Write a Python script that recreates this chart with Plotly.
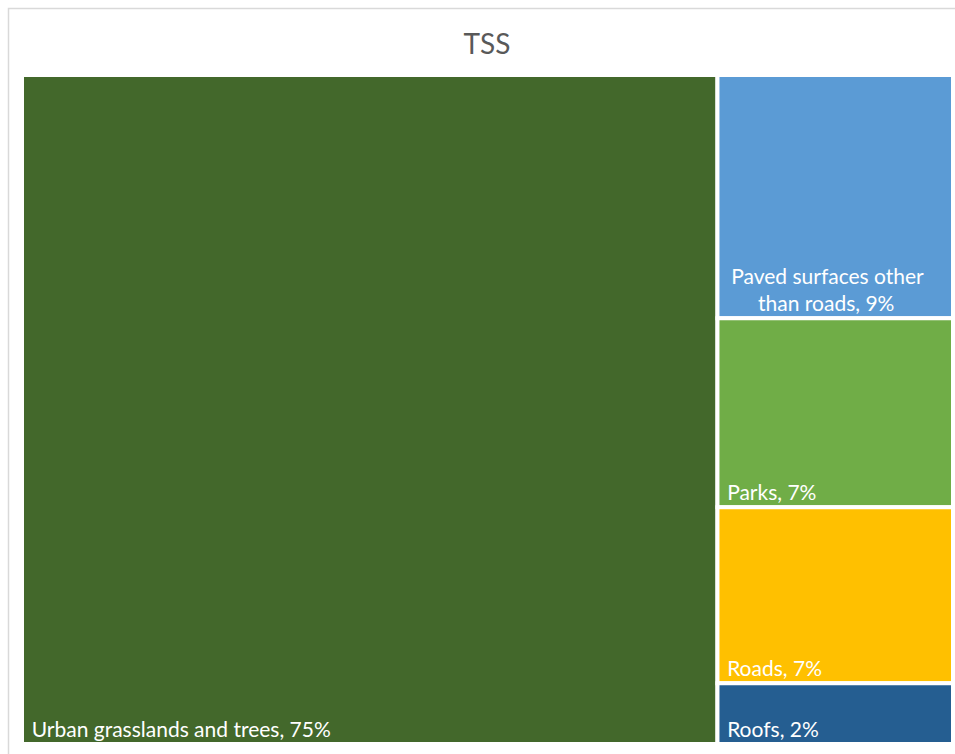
import plotly.graph_objects as go

labels = ["Urban grasslands and trees", "Paved surfaces other than roads", "Parks", "Roads", "Roofs"]
values = [74.7, 9.2, 7.15, 6.65, 2.3]
display = [
    "\u00a0\u200aUrban grasslands and trees, 75%",
    "\u00a0\u00a0Paved surfaces other<br>\u00a0\u00a0\u00a0\u00a0\u00a0\u00a0\u00a0than roads, 9%",
    "\u00a0\u200aParks, 7%",
    "\u00a0\u200aRoads, 7%",
    "\u00a0\u200aRoofs, 2%",
]
colors = ["#43682B", "#5B9BD5", "#70AD47", "#FFC000", "#255E91"]

W, H = 955, 754
fig = go.Figure(go.Treemap(
    labels=labels,
    parents=[""] * len(labels),
    values=values,
    text=display,
    texttemplate="%{text}",
    textposition="bottom left",
    textfont=dict(family="Lato", size=21, color="white"),
    marker=dict(colors=colors, line=dict(color="white", width=4),
                pad=dict(t=0, l=0, r=0, b=0)),
    tiling=dict(packing="squarify", pad=0),
    pathbar=dict(visible=False),
    sort=True,
    hoverinfo="label",
    domain=dict(x=[22 / W, 953 / W], y=[1 - 744 / H, 1 - 75 / H]),
))

fig.update_layout(
    width=W, height=H,
    margin=dict(l=0, r=0, t=0, b=0),
    paper_bgcolor="white",
    uniformtext=dict(minsize=21, mode="show"),
    title=dict(text="TSS", x=487 / W, xanchor="center", y=1 - 44 / H, yanchor="middle",
               font=dict(family="Lato", size=28, color="#595959")),
    shapes=[dict(type="rect", xref="paper", yref="paper",
                 x0=8.5 / W, x1=1.05, y0=-0.05, y1=1 - 8.5 / H,
                 line=dict(color="#D9D9D9", width=1.5), fillcolor="rgba(0,0,0,0)")],
)

fig.write_html("out.html")
